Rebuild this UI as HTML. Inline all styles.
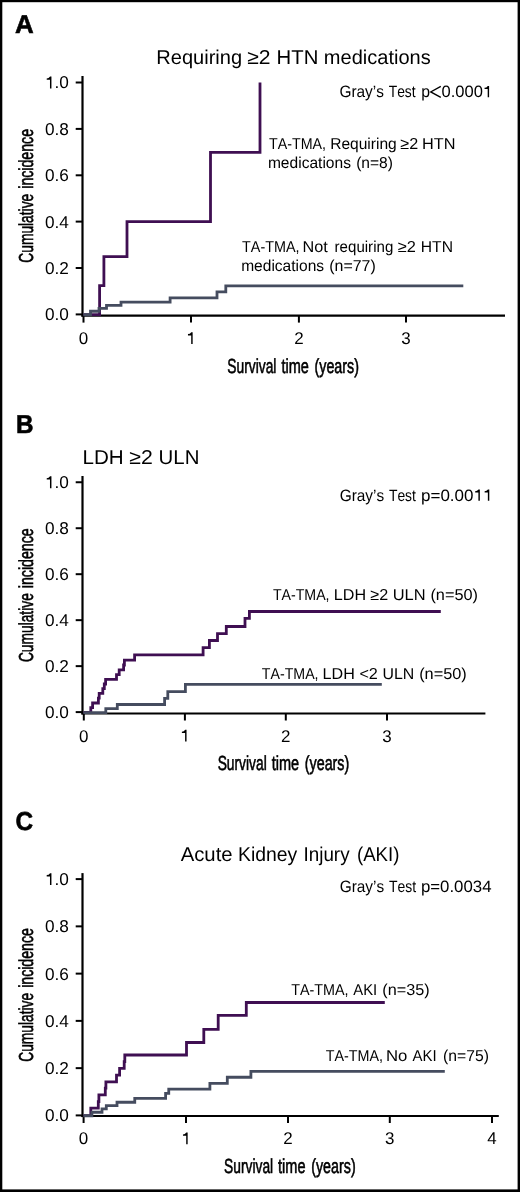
<!DOCTYPE html>
<html><head><meta charset="utf-8"><style>
html,body{margin:0;padding:0;background:#fff;}
body{width:520px;height:1192px;overflow:hidden;position:relative;}
svg{position:absolute;left:0;top:0;will-change:transform;}
text{font-family:"Liberation Sans",sans-serif;fill:#000;text-rendering:geometricPrecision;font-kerning:none;}
text.c{stroke:#000;stroke-width:0.6px;}
</style></head><body>
<svg width="520" height="1192" viewBox="0 0 520 1192">
<rect x="0" y="0" width="520" height="2.2" fill="#000"/><rect x="0" y="0" width="2.3" height="1192" fill="#000"/><rect x="517.6" y="0" width="2.4" height="1192" fill="#000"/><rect x="0" y="1189.4" width="520" height="2.6" fill="#000"/>
<text x="15.1" y="32.8" font-size="25.9" font-weight="bold" stroke="#000" stroke-width="0.6">A</text>
<text x="156.25" y="63.8" font-size="20" textLength="85.84" lengthAdjust="spacingAndGlyphs">Requiring</text>
<text x="247.28" y="63.8" font-size="20" textLength="23.33" lengthAdjust="spacingAndGlyphs">≥2</text>
<text x="276.63" y="63.8" font-size="20" textLength="41.72" lengthAdjust="spacingAndGlyphs">HTN</text>
<text x="323.87" y="63.8" font-size="20" textLength="106.85" lengthAdjust="spacingAndGlyphs">medications</text>
<text x="339.42" y="97.3" font-size="16.4" textLength="44.53" lengthAdjust="spacingAndGlyphs">Gray’s</text>
<text x="388.69" y="97.3" font-size="16.4" textLength="26.91" lengthAdjust="spacingAndGlyphs">Test</text>
<text x="421.28" y="97.3" font-size="16.4" textLength="8.78" lengthAdjust="spacingAndGlyphs">p</text>
<path d="M440.8,86.4 L430.7,91.9 L440.8,97.4" fill="none" stroke="#000" stroke-width="1.3"/>
<text x="441.45" y="97.3" font-size="16.4" textLength="50.65" lengthAdjust="spacingAndGlyphs">0.000 </text>
<path d="M489.10,86.02 L489.10,97.30 L487.69,97.30 L487.69,89.10 L484.55,89.10 L484.55,87.87 L486.37,87.46 L487.78,86.02Z" fill="#000"/>
<line x1="82.5" y1="76" x2="82.5" y2="316.6" stroke="#000" stroke-width="2.2"/>
<line x1="75.7" y1="82.5" x2="82.5" y2="82.5" stroke="#000" stroke-width="2"/>
<text x="44.99" y="88.4" font-size="17.2" textLength="23.91" lengthAdjust="spacingAndGlyphs"> .0</text>
<path d="M51.44,76.57 L51.44,88.40 L49.98,88.40 L49.98,79.80 L46.71,79.80 L46.71,78.51 L48.60,78.08 L50.06,76.57Z" fill="#000"/>
<line x1="75.7" y1="128.9" x2="82.5" y2="128.9" stroke="#000" stroke-width="2"/>
<text x="44.99" y="134.8" font-size="17.2" textLength="23.91" lengthAdjust="spacingAndGlyphs">0.8</text>
<line x1="75.7" y1="175.3" x2="82.5" y2="175.3" stroke="#000" stroke-width="2"/>
<text x="44.99" y="181.2" font-size="17.2" textLength="23.91" lengthAdjust="spacingAndGlyphs">0.6</text>
<line x1="75.7" y1="221.6" x2="82.5" y2="221.6" stroke="#000" stroke-width="2"/>
<text x="44.99" y="227.5" font-size="17.2" textLength="23.91" lengthAdjust="spacingAndGlyphs">0.4</text>
<line x1="75.7" y1="268.0" x2="82.5" y2="268.0" stroke="#000" stroke-width="2"/>
<text x="44.99" y="273.9" font-size="17.2" textLength="23.91" lengthAdjust="spacingAndGlyphs">0.2</text>
<line x1="75.7" y1="314.4" x2="82.5" y2="314.4" stroke="#000" stroke-width="2"/>
<text x="44.99" y="320.3" font-size="17.2" textLength="23.91" lengthAdjust="spacingAndGlyphs">0.0</text>
<line x1="81.4" y1="315.6" x2="505" y2="315.6" stroke="#000" stroke-width="2.2"/>
<line x1="83.5" y1="315.6" x2="83.5" y2="322.6" stroke="#000" stroke-width="2"/>
<text x="78.77" y="343.9" font-size="17" textLength="9.45" lengthAdjust="spacingAndGlyphs">0</text>
<line x1="191" y1="315.6" x2="191" y2="322.6" stroke="#000" stroke-width="2"/>
<text x="186.27" y="343.9" font-size="17" textLength="9.45" lengthAdjust="spacingAndGlyphs"> </text>
<path d="M192.65,332.20 L192.65,343.90 L191.20,343.90 L191.20,335.40 L187.97,335.40 L187.97,334.12 L189.84,333.70 L191.29,332.20Z" fill="#000"/>
<line x1="298.9" y1="315.6" x2="298.9" y2="322.6" stroke="#000" stroke-width="2"/>
<text x="294.17" y="343.9" font-size="17" textLength="9.45" lengthAdjust="spacingAndGlyphs">2</text>
<line x1="406" y1="315.6" x2="406" y2="322.6" stroke="#000" stroke-width="2"/>
<text x="401.27" y="343.9" font-size="17" textLength="9.45" lengthAdjust="spacingAndGlyphs">3</text>
<path d="M83.4,314.4 H99.6 V285.4 H103.9 V256.5 H127 V221.5 H210.5 V152.2 H260 V82.3" fill="none" stroke="#3f0f52" stroke-width="2.8" stroke-linejoin="miter" stroke-linecap="butt" transform="translate(0,0.2)"/>
<path d="M83.4,314.4 H90.5 V310.9 H99 V308.1 H106.5 V305 H121 V301.75 H170.1 V297.5 H217 V291.5 H225.8 V285.5 H463.3" fill="none" stroke="#454c5f" stroke-width="2.8" stroke-linejoin="miter" stroke-linecap="butt" transform="translate(0,0.35)"/>
<text x="269.08" y="149.1" font-size="15.8" textLength="57.00" lengthAdjust="spacingAndGlyphs">TA-TMA,</text>
<text x="330.17" y="149.1" font-size="15.8" textLength="66.63" lengthAdjust="spacingAndGlyphs">Requiring</text>
<text x="400.29" y="149.1" font-size="15.8" textLength="17.82" lengthAdjust="spacingAndGlyphs">≥2</text>
<text x="421.96" y="149.1" font-size="15.8" textLength="33.46" lengthAdjust="spacingAndGlyphs">HTN</text>
<text x="267.92" y="168.2" font-size="15.8" textLength="83.05" lengthAdjust="spacingAndGlyphs">medications</text>
<text x="356.13" y="168.2" font-size="15.8" textLength="36.83" lengthAdjust="spacingAndGlyphs">(n=8)</text>
<text x="242.08" y="252" font-size="15.8" textLength="57.51" lengthAdjust="spacingAndGlyphs">TA-TMA,</text>
<text x="302.57" y="252" font-size="15.8" textLength="25.25" lengthAdjust="spacingAndGlyphs">Not</text>
<text x="334.60" y="252" font-size="15.8" textLength="58.67" lengthAdjust="spacingAndGlyphs">requiring</text>
<text x="397.78" y="252" font-size="15.8" textLength="18.09" lengthAdjust="spacingAndGlyphs">≥2</text>
<text x="420.82" y="252" font-size="15.8" textLength="32.16" lengthAdjust="spacingAndGlyphs">HTN</text>
<text x="241.17" y="271.3" font-size="15.8" textLength="82.94" lengthAdjust="spacingAndGlyphs">medications</text>
<text x="329.21" y="271.3" font-size="15.8" textLength="46.58" lengthAdjust="spacingAndGlyphs">(n=77)</text>
<text x="227.37" y="373.1" font-size="20.3" textLength="49.05" lengthAdjust="spacingAndGlyphs" class="c">Survival</text>
<text x="281.38" y="373.1" font-size="20.3" textLength="27.47" lengthAdjust="spacingAndGlyphs" class="c">time</text>
<text x="314.51" y="373.1" font-size="20.3" textLength="44.47" lengthAdjust="spacingAndGlyphs" class="c">(years)</text>
<g transform="translate(33.0,195.8) rotate(-90)">
<text x="-66.90" y="0" font-size="20.3" textLength="68.91" lengthAdjust="spacingAndGlyphs" class="c">Cumulative</text>
<text x="7.05" y="0" font-size="20.3" textLength="59.78" lengthAdjust="spacingAndGlyphs" class="c">incidence</text>
</g>
<text x="16.1" y="433.1" font-size="25.9" textLength="17.5" lengthAdjust="spacingAndGlyphs" font-weight="bold" stroke="#000" stroke-width="0.6">B</text>
<text x="82.51" y="464.3" font-size="20" textLength="41.22" lengthAdjust="spacingAndGlyphs">LDH</text>
<text x="129.28" y="464.3" font-size="20" textLength="23.49" lengthAdjust="spacingAndGlyphs">≥2</text>
<text x="158.63" y="464.3" font-size="20" textLength="40.84" lengthAdjust="spacingAndGlyphs">ULN</text>
<text x="339.67" y="500.7" font-size="16.4" textLength="44.53" lengthAdjust="spacingAndGlyphs">Gray’s</text>
<text x="388.94" y="500.7" font-size="16.4" textLength="26.96" lengthAdjust="spacingAndGlyphs">Test</text>
<text x="421.00" y="500.7" font-size="16.4" textLength="71.38" lengthAdjust="spacingAndGlyphs">p=0.00  </text>
<path d="M479.85,489.42 L479.85,500.70 L478.40,500.70 L478.40,492.50 L475.17,492.50 L475.17,491.27 L477.04,490.86 L478.49,489.42Z" fill="#000"/>
<path d="M489.30,489.42 L489.30,500.70 L487.86,500.70 L487.86,492.50 L484.63,492.50 L484.63,491.27 L486.50,490.86 L487.94,489.42Z" fill="#000"/>
<line x1="82.5" y1="476" x2="82.5" y2="714.5" stroke="#000" stroke-width="2.2"/>
<line x1="75.7" y1="482.25" x2="82.5" y2="482.25" stroke="#000" stroke-width="2"/>
<text x="44.99" y="488.15" font-size="17.2" textLength="23.91" lengthAdjust="spacingAndGlyphs"> .0</text>
<path d="M51.44,476.32 L51.44,488.15 L49.98,488.15 L49.98,479.55 L46.71,479.55 L46.71,478.26 L48.60,477.83 L50.06,476.32Z" fill="#000"/>
<line x1="75.7" y1="528.22" x2="82.5" y2="528.22" stroke="#000" stroke-width="2"/>
<text x="44.99" y="534.12" font-size="17.2" textLength="23.91" lengthAdjust="spacingAndGlyphs">0.8</text>
<line x1="75.7" y1="574.19" x2="82.5" y2="574.19" stroke="#000" stroke-width="2"/>
<text x="44.99" y="580.09" font-size="17.2" textLength="23.91" lengthAdjust="spacingAndGlyphs">0.6</text>
<line x1="75.7" y1="620.16" x2="82.5" y2="620.16" stroke="#000" stroke-width="2"/>
<text x="44.99" y="626.06" font-size="17.2" textLength="23.91" lengthAdjust="spacingAndGlyphs">0.4</text>
<line x1="75.7" y1="666.13" x2="82.5" y2="666.13" stroke="#000" stroke-width="2"/>
<text x="44.99" y="672.03" font-size="17.2" textLength="23.91" lengthAdjust="spacingAndGlyphs">0.2</text>
<line x1="75.7" y1="712.1" x2="82.5" y2="712.1" stroke="#000" stroke-width="2"/>
<text x="44.99" y="718.0" font-size="17.2" textLength="23.91" lengthAdjust="spacingAndGlyphs">0.0</text>
<line x1="81.4" y1="713.5" x2="485.4" y2="713.5" stroke="#000" stroke-width="2.2"/>
<line x1="83.8" y1="713.5" x2="83.8" y2="720.5" stroke="#000" stroke-width="2"/>
<text x="79.07" y="741.5" font-size="17" textLength="9.45" lengthAdjust="spacingAndGlyphs">0</text>
<line x1="184.9" y1="713.5" x2="184.9" y2="720.5" stroke="#000" stroke-width="2"/>
<text x="180.17" y="741.5" font-size="17" textLength="9.45" lengthAdjust="spacingAndGlyphs"> </text>
<path d="M186.55,729.80 L186.55,741.50 L185.10,741.50 L185.10,733.00 L181.87,733.00 L181.87,731.73 L183.74,731.30 L185.19,729.80Z" fill="#000"/>
<line x1="285.8" y1="713.5" x2="285.8" y2="720.5" stroke="#000" stroke-width="2"/>
<text x="281.07" y="741.5" font-size="17" textLength="9.45" lengthAdjust="spacingAndGlyphs">2</text>
<line x1="387" y1="713.5" x2="387" y2="720.5" stroke="#000" stroke-width="2"/>
<text x="382.27" y="741.5" font-size="17" textLength="9.45" lengthAdjust="spacingAndGlyphs">3</text>
<path d="M83.4,712.2 H90.8 V707.5 H92.6 V702.8 H98.4 V697.9 H99.2 V693.2 H102.8 V688.5 H104.3 V683.8 H105.6 V679.1 H116.5 V674.5 H119.2 V669.7 H123.6 V664.8 H124.4 V660 H134.6 V654.6 H203.1 V647.5 H209.4 V640.3 H217.5 V633.5 H226.3 V626.3 H245 V618.1 H249.4 V611.3 H440.8" fill="none" stroke="#3f0f52" stroke-width="2.8" stroke-linejoin="miter" stroke-linecap="butt" transform="translate(0,0.2)"/>
<path d="M83.4,712.2 H105.8 V708.1 H117.3 V704.0 H164.6 V697.9 H167.8 V691.2 H185.4 V683.9 H381.8" fill="none" stroke="#454c5f" stroke-width="2.8" stroke-linejoin="miter" stroke-linecap="butt" transform="translate(0,0.5)"/>
<text x="272.88" y="600.2" font-size="15.8" textLength="56.69" lengthAdjust="spacingAndGlyphs">TA-TMA,</text>
<text x="333.88" y="600.2" font-size="15.8" textLength="32.24" lengthAdjust="spacingAndGlyphs">LDH</text>
<text x="370.29" y="600.2" font-size="15.8" textLength="17.82" lengthAdjust="spacingAndGlyphs">≥2</text>
<text x="392.68" y="600.2" font-size="15.8" textLength="32.86" lengthAdjust="spacingAndGlyphs">ULN</text>
<text x="430.44" y="600.2" font-size="15.8" textLength="47.57" lengthAdjust="spacingAndGlyphs">(n=50)</text>
<text x="261.78" y="678.9" font-size="15.8" textLength="56.79" lengthAdjust="spacingAndGlyphs">TA-TMA,</text>
<text x="322.63" y="678.9" font-size="15.8" textLength="32.24" lengthAdjust="spacingAndGlyphs">LDH</text>
<text x="359.40" y="678.9" font-size="15.8" textLength="18.46" lengthAdjust="spacingAndGlyphs">&lt;2</text>
<text x="382.48" y="678.9" font-size="15.8" textLength="31.72" lengthAdjust="spacingAndGlyphs">ULN</text>
<text x="419.19" y="678.9" font-size="15.8" textLength="47.62" lengthAdjust="spacingAndGlyphs">(n=50)</text>
<text x="217.67" y="770.2" font-size="20.3" textLength="49.05" lengthAdjust="spacingAndGlyphs" class="c">Survival</text>
<text x="271.68" y="770.2" font-size="20.3" textLength="27.47" lengthAdjust="spacingAndGlyphs" class="c">time</text>
<text x="304.81" y="770.2" font-size="20.3" textLength="44.47" lengthAdjust="spacingAndGlyphs" class="c">(years)</text>
<g transform="translate(33.0,595.2) rotate(-90)">
<text x="-66.90" y="0" font-size="20.3" textLength="68.91" lengthAdjust="spacingAndGlyphs" class="c">Cumulative</text>
<text x="7.05" y="0" font-size="20.3" textLength="59.78" lengthAdjust="spacingAndGlyphs" class="c">incidence</text>
</g>
<text x="15.4" y="830.4" font-size="25.9" textLength="17.6" lengthAdjust="spacingAndGlyphs" font-weight="bold" stroke="#000" stroke-width="0.6">C</text>
<text x="180.66" y="860.7" font-size="20" textLength="51.94" lengthAdjust="spacingAndGlyphs">Acute</text>
<text x="238.01" y="860.7" font-size="20" textLength="59.23" lengthAdjust="spacingAndGlyphs">Kidney</text>
<text x="303.57" y="860.7" font-size="20" textLength="45.97" lengthAdjust="spacingAndGlyphs">Injury</text>
<text x="356.94" y="860.7" font-size="20" textLength="42.51" lengthAdjust="spacingAndGlyphs">(AKI)</text>
<text x="339.67" y="892.4" font-size="16.4" textLength="44.53" lengthAdjust="spacingAndGlyphs">Gray’s</text>
<text x="388.94" y="892.4" font-size="16.4" textLength="27.17" lengthAdjust="spacingAndGlyphs">Test</text>
<text x="420.92" y="892.4" font-size="16.4" textLength="70.58" lengthAdjust="spacingAndGlyphs">p=0.0034</text>
<line x1="82.5" y1="873.1" x2="82.5" y2="1117.1" stroke="#000" stroke-width="2.2"/>
<line x1="75.7" y1="879.1" x2="82.5" y2="879.1" stroke="#000" stroke-width="2"/>
<text x="44.99" y="885.0" font-size="17.2" textLength="23.91" lengthAdjust="spacingAndGlyphs"> .0</text>
<path d="M51.44,873.17 L51.44,885.00 L49.98,885.00 L49.98,876.40 L46.71,876.40 L46.71,875.11 L48.60,874.68 L50.06,873.17Z" fill="#000"/>
<line x1="75.7" y1="926.36" x2="82.5" y2="926.36" stroke="#000" stroke-width="2"/>
<text x="44.99" y="932.26" font-size="17.2" textLength="23.91" lengthAdjust="spacingAndGlyphs">0.8</text>
<line x1="75.7" y1="973.62" x2="82.5" y2="973.62" stroke="#000" stroke-width="2"/>
<text x="44.99" y="979.52" font-size="17.2" textLength="23.91" lengthAdjust="spacingAndGlyphs">0.6</text>
<line x1="75.7" y1="1020.88" x2="82.5" y2="1020.88" stroke="#000" stroke-width="2"/>
<text x="44.99" y="1026.78" font-size="17.2" textLength="23.91" lengthAdjust="spacingAndGlyphs">0.4</text>
<line x1="75.7" y1="1068.14" x2="82.5" y2="1068.14" stroke="#000" stroke-width="2"/>
<text x="44.99" y="1074.04" font-size="17.2" textLength="23.91" lengthAdjust="spacingAndGlyphs">0.2</text>
<line x1="75.7" y1="1115.4" x2="82.5" y2="1115.4" stroke="#000" stroke-width="2"/>
<text x="44.99" y="1121.3" font-size="17.2" textLength="23.91" lengthAdjust="spacingAndGlyphs">0.0</text>
<line x1="81.4" y1="1116" x2="498.8" y2="1116" stroke="#000" stroke-width="2.2"/>
<line x1="83.6" y1="1116" x2="83.6" y2="1123" stroke="#000" stroke-width="2"/>
<text x="78.87" y="1144.3" font-size="17" textLength="9.45" lengthAdjust="spacingAndGlyphs">0</text>
<line x1="186" y1="1116" x2="186" y2="1123" stroke="#000" stroke-width="2"/>
<text x="181.27" y="1144.3" font-size="17" textLength="9.45" lengthAdjust="spacingAndGlyphs"> </text>
<path d="M187.65,1132.60 L187.65,1144.30 L186.20,1144.30 L186.20,1135.80 L182.97,1135.80 L182.97,1134.52 L184.84,1134.10 L186.29,1132.60Z" fill="#000"/>
<line x1="288" y1="1116" x2="288" y2="1123" stroke="#000" stroke-width="2"/>
<text x="283.27" y="1144.3" font-size="17" textLength="9.45" lengthAdjust="spacingAndGlyphs">2</text>
<line x1="389.8" y1="1116" x2="389.8" y2="1123" stroke="#000" stroke-width="2"/>
<text x="385.07" y="1144.3" font-size="17" textLength="9.45" lengthAdjust="spacingAndGlyphs">3</text>
<line x1="492" y1="1116" x2="492" y2="1123" stroke="#000" stroke-width="2"/>
<text x="487.27" y="1144.3" font-size="17" textLength="9.45" lengthAdjust="spacingAndGlyphs">4</text>
<path d="M83.4,1115.4 H90.8 V1107.9 H98.3 V1101.5 H98.9 V1094.6 H105.3 V1088 H105.9 V1081.6 H116.5 V1075 H119.6 V1068.1 H124.2 V1061.5 H124.8 V1054.8 H186.5 V1042.3 H203.8 V1029.2 H218.2 V1015.2 H246.3 V1002.3 H384.8" fill="none" stroke="#3f0f52" stroke-width="2.8" stroke-linejoin="miter" stroke-linecap="butt" transform="translate(0,0.2)"/>
<path d="M83.4,1115.4 H91.9 V1111.9 H102 V1108.5 H106.3 V1105.3 H117 V1101.9 H134.75 V1098.1 H165.6 V1093.1 H168.75 V1088.75 H209.9 V1083.1 H227.3 V1076.9 H250.9 V1071 H444.8" fill="none" stroke="#454c5f" stroke-width="2.8" stroke-linejoin="miter" stroke-linecap="butt" transform="translate(0,0.35)"/>
<text x="291.18" y="994.9" font-size="15.8" textLength="57.41" lengthAdjust="spacingAndGlyphs">TA-TMA,</text>
<text x="353.27" y="994.9" font-size="15.8" textLength="23.90" lengthAdjust="spacingAndGlyphs">AKI</text>
<text x="382.29" y="994.9" font-size="15.8" textLength="47.31" lengthAdjust="spacingAndGlyphs">(n=35)</text>
<text x="325.78" y="1060.6" font-size="15.8" textLength="57.31" lengthAdjust="spacingAndGlyphs">TA-TMA,</text>
<text x="386.03" y="1060.6" font-size="15.8" textLength="21.37" lengthAdjust="spacingAndGlyphs">No</text>
<text x="412.47" y="1060.6" font-size="15.8" textLength="24.11" lengthAdjust="spacingAndGlyphs">AKI</text>
<text x="443.03" y="1060.6" font-size="15.8" textLength="45.85" lengthAdjust="spacingAndGlyphs">(n=75)</text>
<text x="224.07" y="1173.2" font-size="20.3" textLength="49.05" lengthAdjust="spacingAndGlyphs" class="c">Survival</text>
<text x="278.08" y="1173.2" font-size="20.3" textLength="27.47" lengthAdjust="spacingAndGlyphs" class="c">time</text>
<text x="311.21" y="1173.2" font-size="20.3" textLength="44.47" lengthAdjust="spacingAndGlyphs" class="c">(years)</text>
<g transform="translate(33.0,994.9) rotate(-90)">
<text x="-66.90" y="0" font-size="20.3" textLength="68.91" lengthAdjust="spacingAndGlyphs" class="c">Cumulative</text>
<text x="7.05" y="0" font-size="20.3" textLength="59.78" lengthAdjust="spacingAndGlyphs" class="c">incidence</text>
</g>
</svg>
</body></html>
